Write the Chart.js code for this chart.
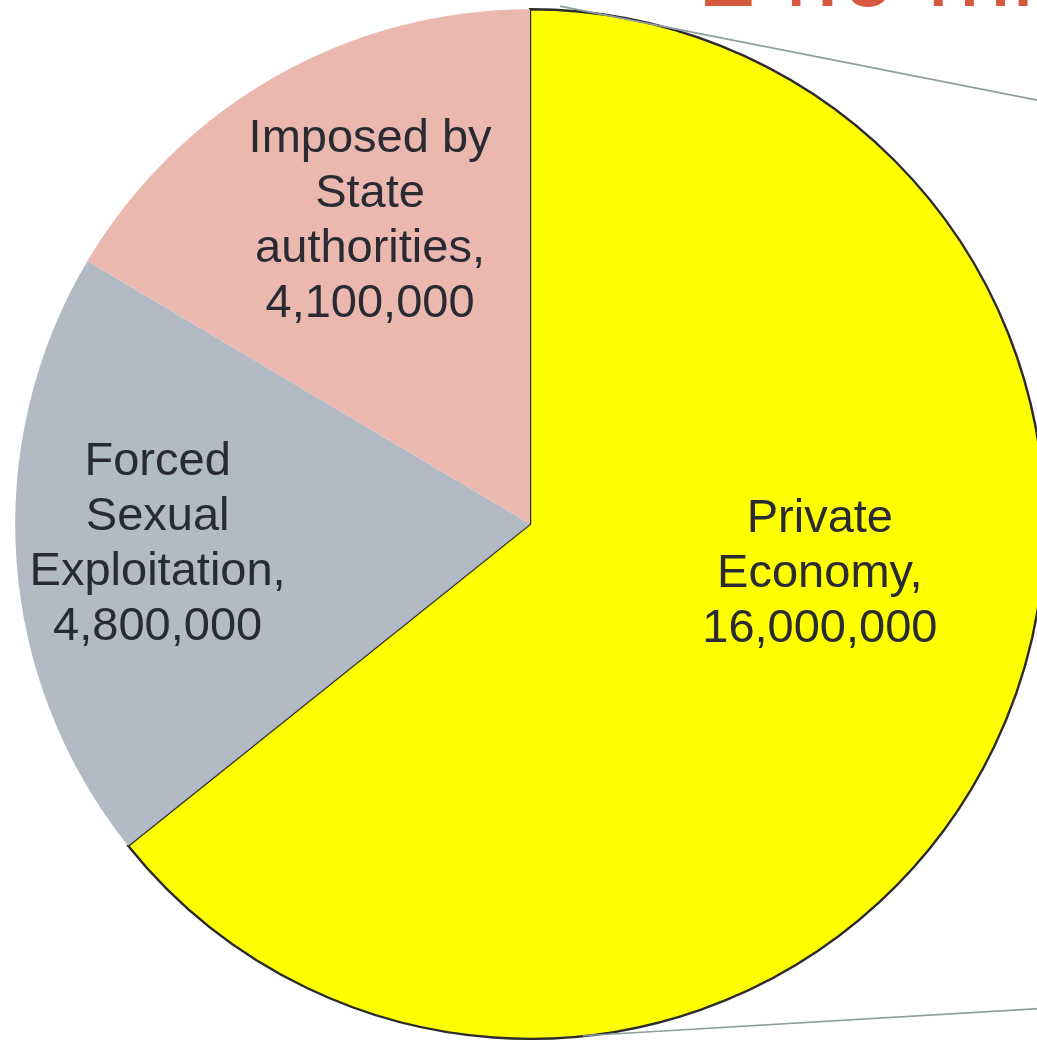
<!DOCTYPE html>
<html>
<head>
<meta charset="utf-8">
<script src="https://cdn.jsdelivr.net/npm/chart.js@4/dist/chart.umd.min.js"></script>
<style>
  html, body { margin: 0; padding: 0; background: #ffffff; overflow: hidden; }
  #wrap { position: relative; width: 1060px; height: 1041px; }
</style>
</head>
<body>
<div id="wrap"><canvas id="c" width="1060" height="1041"></canvas></div>
<script>
// ---- data ----
const categories = ['Private Economy', 'Forced Sexual Exploitation', 'Imposed by State authorities'];
const values = [16000000, 4800000, 4100000];
const labelWords = [
  ['Private', 'Economy,'],
  ['Forced', 'Sexual', 'Exploitation,'],
  ['Imposed by', 'State', 'authorities,']
];
const titleText = '24.9 million';

// ---- styles ----
const colors = ['#FFFF00', '#B1BAC5', '#EBB8B0'];
const borderWidths = [2.4, 0, 0];
const labelPlacement = [ // angle shift (deg) from slice middle, radial fraction
  { shift: -16.7, f: 0.57 },
  { shift: 1.5, f: 0.724 },
  { shift: 2.1, f: 0.672 }
];

const overlayPlugin = {
  id: 'overlay',
  afterDatasetsDraw(chart) {
    const ctx = chart.ctx;
    const meta = chart.getDatasetMeta(0);
    const arcs = meta.data;
    const cx = arcs[0].x, cy = arcs[0].y, r = arcs[0].outerRadius;

    // connector lines (pie-of-pie style)
    ctx.save();
    ctx.strokeStyle = '#8E9E9A';
    ctx.lineWidth = 1.6;
    ctx.beginPath();
    ctx.moveTo(cx + 0.058 * r, cy - 1.006 * r);
    ctx.lineTo(cx + 0.058 * r + 600, cy - 1.006 * r + 600 * 0.197);
    ctx.moveTo(cx + 0.103 * r, cy + 0.994 * r);
    ctx.lineTo(cx + 0.103 * r + 600, cy + 0.994 * r - 600 * 0.0595);
    ctx.stroke();
    ctx.restore();

    // data labels
    ctx.save();
    ctx.fillStyle = '#2A2A33';
    ctx.font = '47px "Liberation Sans", Arial, sans-serif';
    ctx.textAlign = 'center';
    ctx.textBaseline = 'middle';
    const lh = 55;
    arcs.forEach((arc, i) => {
      const p = labelPlacement[i];
      const mid = (arc.startAngle + arc.endAngle) / 2 + p.shift * Math.PI / 180;
      const x = cx + Math.cos(mid) * r * p.f;
      const y = cy + Math.sin(mid) * r * p.f + 4;
      const lines = labelWords[i].concat([values[i].toLocaleString('en-US')]);
      const y0 = y - (lines.length - 1) * lh / 2;
      lines.forEach((t, k) => ctx.fillText(t, x, y0 + k * lh));
    });
    ctx.restore();

    // clipped title at top
    ctx.save();
    ctx.fillStyle = '#D6583E';
    ctx.font = '102px "Liberation Sans", Arial, sans-serif';
    ctx.textAlign = 'left';
    ctx.textBaseline = 'alphabetic';
    ctx.fillText(titleText, cx + 0.33 * r, 6);
    ctx.restore();
  }
};

new Chart(document.getElementById('c'), {
  type: 'pie',
  data: {
    labels: categories,
    datasets: [{
      data: values,
      backgroundColor: colors,
      borderColor: '#2B2B2B',
      borderWidth: borderWidths,
      borderJoinStyle: 'miter'
    }]
  },
  options: {
    responsive: false,
    animation: false,
    devicePixelRatio: 1,
    layout: { padding: { left: 14, top: 8, right: 14, bottom: 1 } },
    plugins: {
      legend: { display: false },
      tooltip: { enabled: false },
      title: { display: false }
    }
  },
  plugins: [overlayPlugin]
});
</script>
</body>
</html>
